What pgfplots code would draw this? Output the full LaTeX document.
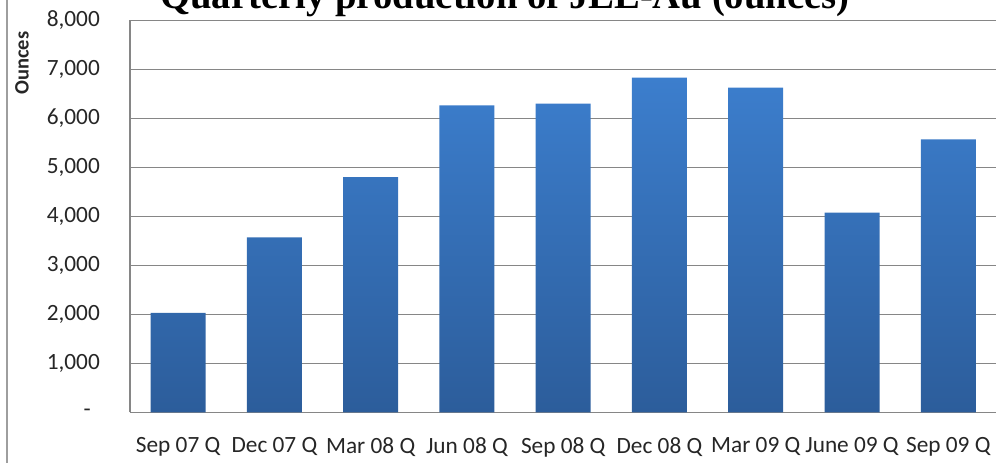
\documentclass[border=0pt]{standalone}
\usepackage{pgfplots}
\pgfplotsset{compat=1.18}
\usepackage{fontspec}
\setmainfont{Carlito}
\newfontfamily\titlefont{Liberation Serif}

\definecolor{barTop}{RGB}{60,126,205}
\definecolor{barBottom}{RGB}{44,93,155}
\definecolor{gridGray}{RGB}{134,134,134}

\begin{document}
\begin{tikzpicture}[x=1bp,y=1bp]
\useasboundingbox (0,0) rectangle (996,463);
% chart frame edge
\draw[gridGray!80, line width=1.5bp] (7,-5) -- (7,470);
\begin{axis}[
  at={(130bp,50.7bp)}, anchor=south west,
  scale only axis, width=866.4bp, height=392bp,
  xmin=-0.5, xmax=8.5, ymin=0, ymax=8000,
  ybar, bar width=55bp,
  axis x line*=bottom, axis y line*=left,
  axis line style={gridGray, line width=1.3bp, -},
  ymajorgrids, grid style={gridGray, line width=1.3bp},
  major tick length=0pt,
  xtick={0,...,8},
  xticklabels={Sep 07 Q, Dec 07 Q, Mar 08 Q, Jun 08 Q, Sep 08 Q, Dec 08 Q, Mar 09 Q, June 09 Q, Sep 09 Q},
  ytick={0,1000,...,8000},
  yticklabels={{-\rule{9bp}{0pt}},{1,000},{2,000},{3,000},{4,000},{5,000},{6,000},{7,000},{8,000}},
  tick label style={font=\fontsize{23.3bp}{26bp}\selectfont, text=black!85},
  yticklabel style={anchor=east, inner sep=0pt, xshift=-30bp},
  xticklabel style={anchor=north, inner sep=0pt, yshift=-25bp},
  clip=false,
]
\addplot[draw=none, top color=barTop, bottom color=barBottom] coordinates {
  (0,2030) (1,3570) (2,4800) (3,6265) (4,6300) (5,6830) (6,6625) (7,4075) (8,5570)
};
\end{axis}
\node[anchor=base, font={\titlefont\fontsize{38.7bp}{40bp}\selectfont\bfseries}] at (505,454) {Quarterly production of JLE-Au (ounces)};
\node[rotate=90, font={\fontsize{20.5bp}{22bp}\selectfont\bfseries}, text=black!85] at (22,400) {Ounces};
\end{tikzpicture}
\end{document}
